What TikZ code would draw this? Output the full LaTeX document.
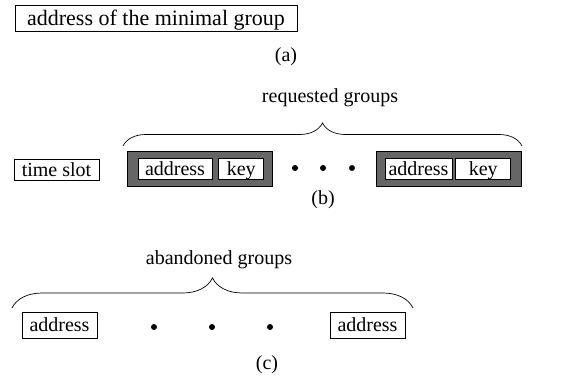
\documentclass[tikz,border=0pt]{standalone}
\usepackage{fontspec}
\setmainfont{Liberation Serif}
\usetikzlibrary{positioning,decorations.pathreplacing}

\begin{document}
\begin{tikzpicture}[x=1pt,y=-1pt,font=\fontsize{20}{23}\selectfont,node distance=6pt]
    \tikzstyle{field}=[draw=black,fill=white,line width=0.8pt,inner sep=0pt,text height=16pt,text depth=3pt,minimum height=21pt]
    \tikzstyle{group}=[draw=black,fill=black!60,line width=0.8pt,minimum width=145pt,minimum height=35pt]
    \tikzstyle{dot}=[circle,fill=black,inner sep=0pt,minimum size=6pt]
    \tikzstyle{brace}=[decorate,decoration={brace,aspect=0.5},line width=0.7pt]
    \useasboundingbox (0,0) rectangle (571,383);
    % (a)
    \node[field,minimum width=282pt,minimum height=26pt,font=\fontsize{22}{24}\selectfont,text height=17pt] (min) at (156,18.5) {address of the minimal group};
    \node (la) at (286,57) {(a)};
    % (b)
    \node[field,minimum width=85pt] (slot) at (56.5,169.5) {time slot};
    \node[group] (g1) at (199.5,168.5) {};
    \node[field,minimum width=74pt] (ad1) at (175,168.5) {address};
    \node[field,minimum width=45pt] (k1) [right=of ad1] {key};
    \node[dot] (d1) at (295,168) {};
    \node[dot] (d2) at (323,168) {};
    \node[dot] (d3) at (352,168) {};
    \node[group] (g2) at (448.5,168.5) {};
    \node[field,minimum width=67pt] (ad2) at (418.5,168.5) {address};
    \node[field,minimum width=55pt,node distance=3pt] (k2) [right=of ad2] {key};
    \node (req) at (330,98) {requested groups};
    \coordinate (bl) at (123,146);
    \coordinate (br) at (522,146);
    \draw[brace,decoration={amplitude=23pt}] (bl) -- (br);
    \node (lb) at (323,200) {(b)};
    % (c)
    \node[field,minimum width=75pt,minimum height=26pt] (ac1) at (59.5,325) {address};
    \node[dot] (e1) at (154,327) {};
    \node[dot] (e2) at (212,327) {};
    \node[dot] (e3) at (270,327) {};
    \node[field,minimum width=75pt,minimum height=26pt] (ac2) at (367.5,325) {address};
    \node (ab) at (219,260) {abandoned groups};
    \coordinate (cl) at (12,308);
    \coordinate (cr) at (413,308);
    \draw[brace,decoration={amplitude=30pt}] (cl) -- (cr);
    \node (lc) at (267,365) {(c)};
\end{tikzpicture}
\end{document}
